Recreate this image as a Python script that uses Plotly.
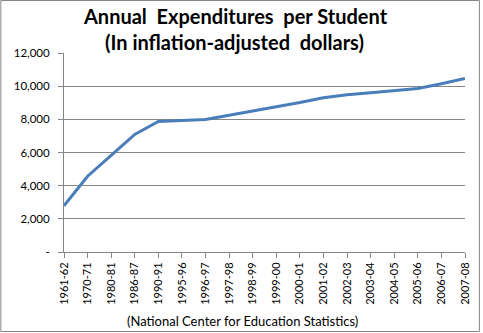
import plotly.graph_objects as go

years = ["1961-62", "1970-71", "1980-81", "1986-87", "1990-91", "1995-96", "1996-97",
         "1997-98", "1998-99", "1999-00", "2000-01", "2001-02", "2002-03", "2003-04",
         "2004-05", "2005-06", "2006-07", "2007-08"]
spending = [2790, 4570, 5830, 7090, 7870, 7930, 7990, 8250, 8500, 8760, 9010, 9300,
            9480, 9600, 9720, 9860, 10150, 10460]
ytick_vals = [0, 2000, 4000, 6000, 8000, 10000, 12000]
ytick_text = ["-", "2,000", "4,000", "6,000", "8,000", "10,000", "12,000"]
title_lines = ["Annual  Expenditures  per Student", "(In inflation-adjusted  dollars)"]

FONT = "Lato, 'Open Sans', sans-serif"
PW, PH, L, B0 = 403, 199, 64, 252  # plot size and origin in pixels


def px(x):
    return (x - L) / PW


def py(y):
    return (B0 - y) / PH


fig = go.Figure()
fig.add_trace(go.Scatter(x=years, y=spending, mode="lines",
                         line=dict(color="#4a7ebb", width=3), hoverinfo="skip"))

fig.update_layout(
    width=483, height=333,
    margin=dict(l=64, r=16, t=53, b=81),
    paper_bgcolor="white", plot_bgcolor="white",
    showlegend=False,
    font=dict(family=FONT, size=11, color="black"),
    xaxis=dict(type="category", range=[0, len(years) - 1], tickangle=-90,
               showgrid=False, showline=True, linecolor="#868686", linewidth=1,
               ticks="outside", ticklen=5, tickcolor="#868686",
               tickfont=dict(size=11)),
    yaxis=dict(range=[0, 12000], tickvals=ytick_vals, ticktext=ytick_text,
               showgrid=True, gridcolor="#868686", gridwidth=1,
               showline=True, linecolor="#868686", linewidth=1,
               ticks="outside", ticklen=5, tickcolor="#868686",
               zeroline=False, tickfont=dict(size=11.5), ticklabelstandoff=6),
)
for i, (txt, yc) in enumerate(zip(title_lines, [16, 42])):
    fig.add_annotation(text="<b>" + txt + "</b>", xref="paper", yref="paper",
                       x=px(236 if i == 0 else 235), y=py(yc), xanchor="center", yanchor="middle",
                       showarrow=False, font=dict(family=FONT, size=20, color="black"))
fig.add_annotation(text="(National Center for Education Statistics)", xref="paper", yref="paper",
                   x=px(243), y=py(321), xanchor="center", yanchor="middle",
                   showarrow=False, font=dict(family=FONT, size=13, color="black"))
fig.add_shape(type="rect", xref="paper", yref="paper",
              x0=px(0.5), x1=px(481.5), y0=py(331.5), y1=py(0.5),
              line=dict(color="#868686", width=1))
fig.write_html("out.html")
